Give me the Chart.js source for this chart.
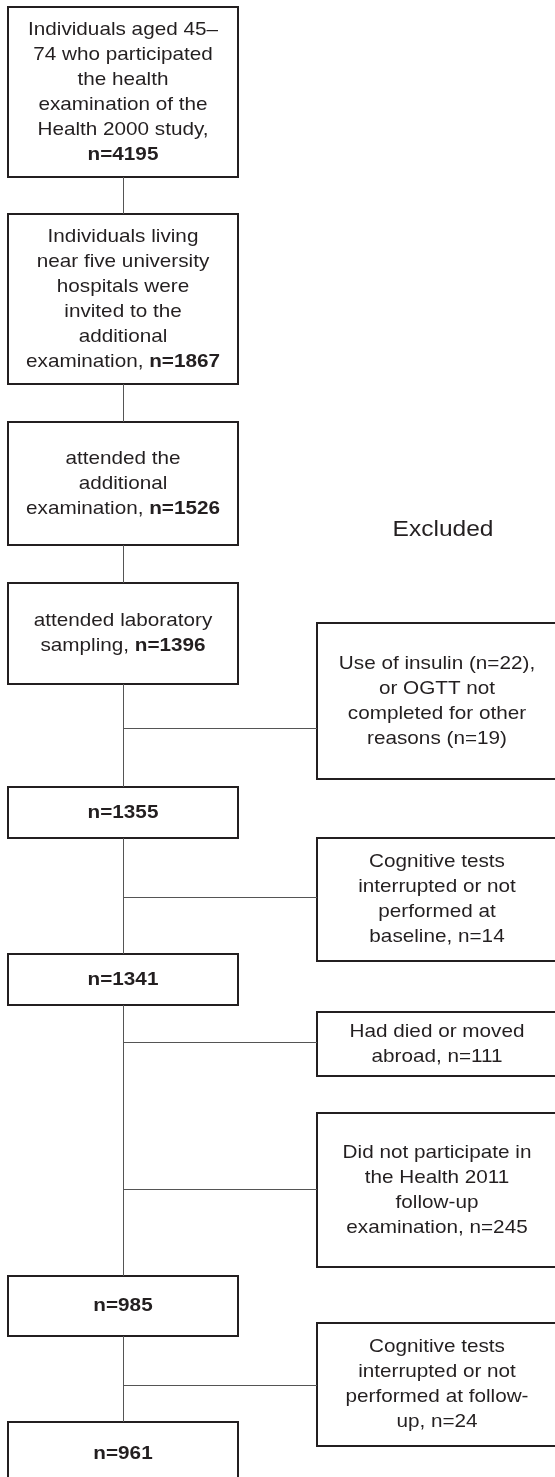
<!DOCTYPE html>
<html>
<head>
<meta charset="utf-8">
<script src="https://cdn.jsdelivr.net/npm/chart.js@4"></script>
<style>
  html, body { margin: 0; padding: 0; background: #fff; }
  #flow { display: block; }
</style>
</head>
<body>
<canvas id="flow" width="555" height="1477"></canvas>
<script>
// Participant counts along the main path
const mainCounts = [4195, 1867, 1526, 1396, 1355, 1341, 985, 961];
// Counts of the exclusions
const excludedCounts = [22, 19, 14, 111, 245, 24];

// Box texts (the bold count is added at the end of the last line)
const mainText = [
    ['Individuals aged 45\u2013', '74 who participated', 'the health', 'examination of the', 'Health 2000 study,', ''],
    ['Individuals living', 'near five university', 'hospitals were', 'invited to the', 'additional', 'examination, '],
    ['attended the', 'additional', 'examination, '],
    ['attended laboratory', 'sampling, '],
    [''], [''], [''], ['']
];
const excludedText = [
    ['Use of insulin (n=' + excludedCounts[0] + '),', 'or OGTT not', 'completed for other', 'reasons (n=' + excludedCounts[1] + ')'],
    ['Cognitive tests', 'interrupted or not', 'performed at', 'baseline, n=' + excludedCounts[2]],
    ['Had died or moved', 'abroad, n=' + excludedCounts[3]],
    ['Did not participate in', 'the Health 2011', 'follow-up', 'examination, n=' + excludedCounts[4]],
    ['Cognitive tests', 'interrupted or not', 'performed at follow-', 'up, n=' + excludedCounts[5]]
];
const excludedTitle = 'Excluded';

// Layout in chart units (the axes run 0..555 and 0..1477)
const spineX = 123.5;
const mainLeft = 8, mainRight = 238;
const mainTop = [7, 214, 422, 583, 787, 954, 1276, 1422];
const mainBottom = [177, 384, 545, 684, 838, 1005, 1336, 1486];
const exclLeft = 317, exclRight = 557;
const exclTop = [623, 838, 1012, 1113, 1323];
const exclBottom = [779, 961, 1076, 1267, 1446];
const branchY = [728.5, 897.5, 1042.5, 1189.5, 1385.5];

const lineHeight = 25;
const textColor = '#231f20';
const stretchX = 1.09; // the lettering in the original is slightly wide

function boxPoints(x0, x1, y0, y1) {
    return [{x: x0, y: y0}, {x: x1, y: y0}, {x: x1, y: y1}, {x: x0, y: y1}, {x: x0, y: y0}];
}

// connectors: spine segments between main boxes and branches to the exclusion boxes
const connectorPoints = [];
for (let i = 0; i < mainTop.length - 1; i++) {
    connectorPoints.push({x: spineX, y: mainBottom[i]}, {x: spineX, y: mainTop[i + 1]}, {x: spineX, y: null});
}
branchY.forEach(y => {
    connectorPoints.push({x: spineX, y: y}, {x: exclLeft, y: y}, {x: spineX, y: null});
});

const boxStyle = {
    type: 'line',
    borderColor: '#231f20',
    borderWidth: 2,
    borderJoinStyle: 'miter',
    borderCapStyle: 'square',
    pointRadius: 0,
    fill: false,
    tension: 0
};

const datasets = [{
    data: connectorPoints,
    type: 'line',
    borderColor: '#555555',
    borderWidth: 1,
    pointRadius: 0,
    spanGaps: false,
    fill: false
}];
mainTop.forEach((t, i) => {
    datasets.push(Object.assign({data: boxPoints(mainLeft, mainRight, t, mainBottom[i])}, boxStyle));
});
exclTop.forEach((t, i) => {
    datasets.push(Object.assign({data: boxPoints(exclLeft, exclRight, t, exclBottom[i])}, boxStyle));
});

const normalFont = '19px "Liberation Sans", Arial, sans-serif';
const boldFont = 'bold 19px "Liberation Sans", Arial, sans-serif';

function drawMixedLine(ctx, cx, cy, normal, bold) {
    ctx.font = normalFont;
    const w1 = normal ? ctx.measureText(normal).width : 0;
    ctx.font = boldFont;
    const w2 = bold ? ctx.measureText(bold).width : 0;
    ctx.save();
    ctx.translate(cx, cy);
    ctx.scale(stretchX, 1);
    let x = -(w1 + w2) / 2;
    if (normal) {
        ctx.font = normalFont;
        ctx.fillText(normal, x, 0);
        x += w1;
    }
    if (bold) {
        ctx.font = boldFont;
        ctx.fillText(bold, x, 0);
    }
    ctx.restore();
}

const flowTextPlugin = {
    id: 'flowText',
    afterDatasetsDraw(chart) {
        const ctx = chart.ctx;
        const xs = chart.scales.x, ys = chart.scales.y;
        ctx.save();
        ctx.fillStyle = textColor;
        ctx.textAlign = 'left';
        ctx.textBaseline = 'middle';

        mainText.forEach((lines, i) => {
            const cx = xs.getPixelForValue((mainLeft + mainRight) / 2);
            const cy = ys.getPixelForValue((mainTop[i] + mainBottom[i]) / 2);
            const start = cy - (lines.length - 1) * lineHeight / 2;
            lines.forEach((line, j) => {
                const last = j === lines.length - 1;
                drawMixedLine(ctx, cx, start + j * lineHeight, line, last ? 'n=' + mainCounts[i] : '');
            });
        });

        excludedText.forEach((lines, i) => {
            const cx = xs.getPixelForValue((exclLeft + exclRight) / 2);
            const cy = ys.getPixelForValue((exclTop[i] + exclBottom[i]) / 2);
            const start = cy - (lines.length - 1) * lineHeight / 2;
            lines.forEach((line, j) => drawMixedLine(ctx, cx, start + j * lineHeight, line, ''));
        });

        ctx.translate(xs.getPixelForValue(443), ys.getPixelForValue(530));
        ctx.scale(stretchX, 1);
        ctx.font = '22.5px "Liberation Sans", Arial, sans-serif';
        ctx.textAlign = 'center';
        ctx.fillText(excludedTitle, 0, 0);
        ctx.restore();
    }
};

new Chart(document.getElementById('flow'), {
    type: 'scatter',
    data: {datasets: datasets},
    options: {
        responsive: false,
        animation: false,
        devicePixelRatio: 1,
        layout: {padding: 0},
        plugins: {legend: {display: false}, tooltip: {enabled: false}},
        scales: {
            x: {type: 'linear', min: 0, max: 555, display: false},
            y: {type: 'linear', min: 0, max: 1477, reverse: true, display: false}
        }
    },
    plugins: [flowTextPlugin]
});
</script>
</body>
</html>
